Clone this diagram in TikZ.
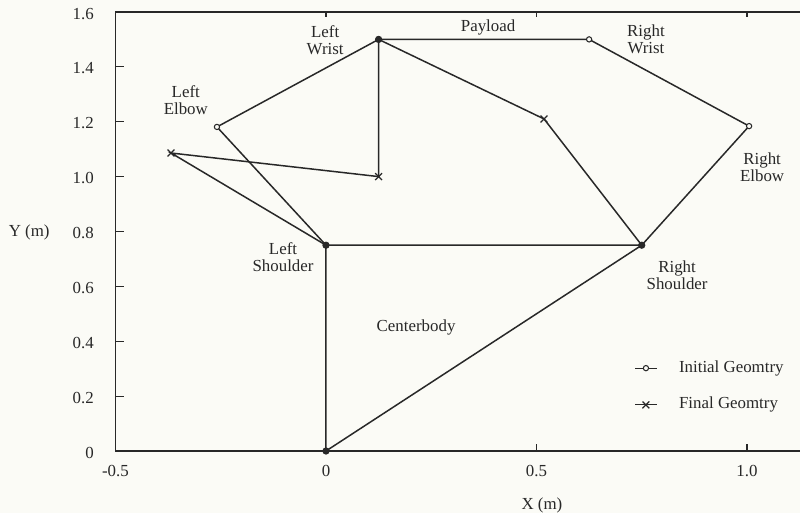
\documentclass[tikz,border=0pt]{standalone}
\usepackage{fontspec}
\setmainfont{Liberation Serif}
\usetikzlibrary{shapes,positioning}
\definecolor{paper}{RGB}{251,251,246}
\definecolor{ink}{RGB}{40,40,40}
\tikzset{
  link/.style={draw=ink,line width=0.85pt},
  omark/.style={circle,draw=ink,fill=paper,line width=0.6pt,inner sep=0pt,minimum size=3pt},
  xmark/.style={cross out,draw=ink,line width=0.7pt,inner sep=0pt,minimum size=3.2pt},
  lbl/.style={align=center,text=ink,font=\fontsize{9.6}{9.6}\selectfont},
}
\begin{document}
\begin{tikzpicture}[x=8.42cm,y=5.488cm]
        \fill[paper] (-0.7743,-0.2259) rectangle (1.1259,1.6436);
        \useasboundingbox (-0.7743,-0.2259) rectangle (1.1259,1.6436);

        % Axes and ticks
        \draw[ink,line width=0.85pt] (1.1259,1.6) -- (-0.5,1.6) -- (-0.5,0) -- (1.1259,0);
        \foreach \y in {0.2,0.4,...,1.4} \draw[ink,line width=0.6pt] (-0.5,\y) -- ++(5pt,0);
        \foreach \x in {0,0.5,1.0} \draw[ink,line width=0.6pt] (\x,1.6) -- ++(0,-3pt);
        \foreach \x in {0.5,1.0} \draw[ink,line width=0.6pt] (\x,0) -- ++(0,4pt);
        \foreach \y/\t [count=\i] in {0/0,0.2/0.2,0.4/0.4,0.6/0.6,0.8/0.8,1.0/1.0,1.2/1.2,1.4/1.4,1.6/1.6}
            \node[lbl,anchor=east] (yt\i) at (-0.537,\y-0.006) {\t};
        \foreach \x/\t [count=\i] in {-0.5/-0.5,0/0,0.5/0.5,1.0/1.0}
            \node[lbl] (xt\i) at (\x,-0.073) {\t};
        \node[lbl] (ylab) at (-0.705,0.798) {Y (m)};
        \node[lbl] (xlab) at (0.513,-0.197) {X (m)};

        % Joints
        \coordinate (base) at (0,0);
        \coordinate (lsh) at (0,0.75);
        \coordinate (rsh) at (0.75,0.75);
        % initial geometry
        \coordinate (lelbI) at (-0.259,1.181);
        \coordinate (lwriI) at (0.125,1.5);
        \coordinate (rwriI) at (0.625,1.5);
        \coordinate (relbI) at (1.005,1.184);
        % final geometry
        \coordinate (lelbF) at (-0.368,1.086);
        \coordinate (lwriF) at (0.125,1.0);
        \coordinate (rwriF) at (0.125,1.5);
        \coordinate (relbF) at (0.518,1.21);

        % Centerbody
        \draw[link] (base) -- (lsh) -- (rsh) -- (base);
        % Arms and payload
        \draw[link] (lsh) -- (lelbI) -- (lwriI) -- (rwriI) -- (relbI) -- (rsh);
        \draw[link] (lsh) -- (lelbF) -- (lwriF) -- (rwriF) -- (relbF) -- (rsh);

        % Markers
        \foreach \p in {lelbI,rwriI,relbI} \node[omark] (o-\p) at (\p) {};
        \foreach \p in {lelbF,lwriF,relbF} \node[xmark] (x-\p) at (\p) {};
        \foreach \p in {base,lsh,rsh,lwriI} \node[omark,fill=ink,minimum size=3.5pt] (b-\p) at (\p) {};

        % Labels
        \node[lbl] (lwlab) at (-0.002,1.498) {Left\\Wrist};
        \node[lbl] (plab) at (0.385,1.545) {Payload};
        \node[lbl] (rwlab) at (0.760,1.501) {Right\\Wrist};
        \node[lbl] (lelab) at (-0.333,1.279) {Left\\Elbow};
        \node[lbl] (relab) at (1.036,1.035) {Right\\Elbow};
        \node[lbl] (lslab) at (-0.102,0.707) {Left\\Shoulder};
        \node[lbl] (rslab) at (0.834,0.641) {Right\\Shoulder};
        \node[lbl] (cblab) at (0.214,0.452) {Centerbody};

        % Legend
        \coordinate (li1) at (0.734,0.302);
        \coordinate (li2) at (0.786,0.302);
        \coordinate (lf1) at (0.734,0.168);
        \coordinate (lf2) at (0.786,0.168);
        \draw[ink,line width=0.6pt] (li1) -- (li2);
        \draw[ink,line width=0.6pt] (lf1) -- (lf2);
        \node[omark] (lio) at (0.760,0.302) {};
        \node[xmark] (lfx) at (0.760,0.168) {};
        \node[lbl,anchor=west] (litxt) at (0.824,0.302) {Initial Geomtry};
        \node[lbl,anchor=west] (lftxt) at (0.824,0.168) {Final Geomtry};
    \end{tikzpicture}
\end{document}
